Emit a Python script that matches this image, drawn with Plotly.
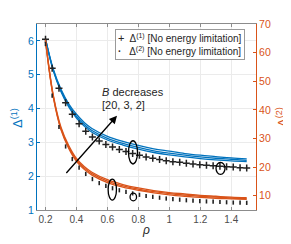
import plotly.graph_objects as go

# ---------------- data ----------------
rho_line = [0.2, 0.25, 0.3, 0.35, 0.4, 0.45, 0.5, 0.6, 0.7, 0.8, 0.9, 1.0, 1.1, 1.2, 1.3, 1.4, 1.5]

# Delta(1) curves (left axis), B = 20, 3, 2
d1_B20 = [6.05, 5.12, 4.50, 4.05, 3.72, 3.48, 3.30, 3.07, 2.92, 2.80, 2.70, 2.63, 2.57, 2.52, 2.48, 2.45, 2.43]
d1_B3 = [6.05, 5.14, 4.53, 4.09, 3.77, 3.53, 3.35, 3.12, 2.97, 2.85, 2.75, 2.68, 2.62, 2.57, 2.53, 2.50, 2.47]
d1_B2 = [6.06, 5.17, 4.57, 4.14, 3.83, 3.59, 3.41, 3.18, 3.03, 2.91, 2.81, 2.74, 2.67, 2.62, 2.58, 2.54, 2.51]

# Delta(2) curves (right axis), B = 20, 3, 2
d2_B20 = [64.0, 44.5, 33.0, 26.5, 22.0, 19.2, 17.2, 14.6, 13.0, 11.9, 11.0, 10.3, 9.8, 9.4, 9.1, 8.9, 8.7]
d2_B3 = [64.2, 44.8, 33.4, 27.0, 22.5, 19.7, 17.7, 15.1, 13.4, 12.3, 11.4, 10.7, 10.2, 9.8, 9.5, 9.2, 9.0]
d2_B2 = [64.5, 45.2, 33.9, 27.5, 23.0, 20.2, 18.2, 15.6, 13.9, 12.7, 11.8, 11.1, 10.6, 10.1, 9.8, 9.5, 9.3]

# No energy limitation (markers)
rho_mk = [0.200, 0.243, 0.287, 0.330, 0.373, 0.417, 0.460, 0.503, 0.547, 0.590,
          0.633, 0.677, 0.720, 0.763, 0.807, 0.850, 0.893, 0.937, 0.980, 1.023,
          1.067, 1.110, 1.153, 1.197, 1.240, 1.283, 1.327, 1.370, 1.413, 1.457, 1.500]
d1_nolim = [6.05, 5.19, 4.60, 4.17, 3.83, 3.55, 3.33, 3.16, 3.04, 2.94,
            2.86, 2.79, 2.73, 2.67, 2.62, 2.57, 2.53, 2.49, 2.46, 2.43,
            2.41, 2.38, 2.36, 2.34, 2.32, 2.31, 2.29, 2.28, 2.27, 2.25, 2.24]
d2_nolim = [63.0, 45.0, 34.0, 27.2, 22.8, 19.8, 17.6, 15.8, 14.4, 13.4,
            12.6, 11.9, 11.3, 10.8, 10.3, 9.9, 9.6, 9.3, 9.0, 8.8,
            8.6, 8.4, 8.25, 8.1, 8.0, 7.9, 7.8, 7.7, 7.6, 7.55, 7.5]

x_ticks = [0.2, 0.4, 0.6, 0.8, 1.0, 1.2, 1.4]
x_ticktext = ["0.2", "0.4", "0.6", "0.8", "1", "1.2", "1.4"]
y1_ticks = [1, 2, 3, 4, 5, 6]
y2_ticks = [10, 20, 30, 40, 50, 60, 70]

BLUE = "#0072BD"
ORANGE = "#D95319"
FONT = "Liberation Sans, Arial, sans-serif"

# page body has an 8px margin; compensate so plot sits where the reference has it
OFF = 8
W, H = 291 - OFF, 244 - OFF
L, T = 37 - OFF, 18 - OFF
PW, PH = 219, 192
R, B = W - L - PW, H - T - PH


def px(xp):
    # xp: pixel x in the reference picture
    return (xp - OFF - L) / PW


def py(yp):
    return 1 - (yp - OFF - T) / PH


fig = go.Figure()

for ys in (d1_B20, d1_B3, d1_B2):
    fig.add_trace(go.Scatter(x=rho_line, y=ys, mode="lines", line=dict(color=BLUE, width=1.3, shape="spline"),
                             showlegend=False, yaxis="y"))
for ys in (d2_B20, d2_B3, d2_B2):
    fig.add_trace(go.Scatter(x=rho_line, y=ys, mode="lines", line=dict(color=ORANGE, width=1.3, shape="spline"),
                             showlegend=False, yaxis="y2"))

fig.add_trace(go.Scatter(x=rho_mk, y=d1_nolim, mode="markers", yaxis="y",
                         name="Δ<sup>(1)</sup> [No energy limitation]",
                         marker=dict(symbol="cross-thin", size=5, color="black",
                                     line=dict(color="#222", width=1.5)),
                         showlegend=False))
fig.add_trace(go.Scatter(x=rho_mk, y=d2_nolim, mode="markers", yaxis="y2",
                         name="Δ<sup>(2)</sup> [No energy limitation]",
                         marker=dict(symbol="line-ns", size=3, color="black",
                                     line=dict(color="#222", width=1.6)),
                         showlegend=False))

shapes = []
# ellipses (pixel positions in reference)
for cx, cy, ew, eh in [(133.0, 150.5, 9, 24), (220.5, 167.0, 9, 12.5), (112.3, 189.0, 8.3, 21.7), (133.3, 196.5, 6.5, 8)]:
    shapes.append(dict(type="circle", xref="paper", yref="paper",
                       x0=px(cx - ew / 2), x1=px(cx + ew / 2), y0=py(cy + eh / 2), y1=py(cy - eh / 2),
                       line=dict(color="black", width=1.3)))

annotations = [
    # arrow
    dict(xref="paper", yref="paper", x=px(117), y=py(112.7), ax=65 - 117, ay=171.5 - 112.7,
         showarrow=True, arrowhead=2, arrowsize=1.2, arrowwidth=1.3,
         arrowcolor="black", text=""),
    dict(xref="paper", yref="paper", x=px(100), y=py(88), xanchor="left", yanchor="middle",
         text="<i>B</i> decreases", showarrow=False, font=dict(size=11, color="#262626", family=FONT)),
    dict(xref="paper", yref="paper", x=px(100), y=py(102), xanchor="left", yanchor="middle",
         text="[20, 3, 2]", showarrow=False, font=dict(size=11, color="#262626", family=FONT)),
    # axis titles
    dict(xref="paper", yref="paper", x=px(17), y=py(115), xanchor="center", yanchor="middle",
         text="Δ<sup>(1)</sup>", textangle=-90, showarrow=False, font=dict(size=13, color=BLUE, family=FONT)),
    dict(xref="paper", yref="paper", x=px(282), y=py(114), xanchor="center", yanchor="middle",
         text="Δ<sup>(2)</sup>", textangle=-90, showarrow=False, font=dict(size=13, color=ORANGE, family=FONT)),
    dict(xref="paper", yref="paper", x=px(146), y=py(231), xanchor="center", yanchor="middle",
         text="<i>ρ</i>", showarrow=False, font=dict(size=12, color="#262626", family=FONT)),
    # legend box
    dict(xref="paper", yref="paper", x=px(115), y=py(22.7), xanchor="left", yanchor="top",
         text="<span style='font-size:11px'>+</span>  Δ<sup>(1)</sup> [No energy limitation]<br>"
              "<b>·</b>   Δ<sup>(2)</sup> [No energy limitation]",
         align="left", showarrow=False, bgcolor="white", bordercolor="#9a9a9a", borderwidth=1,
         borderpad=2, font=dict(size=10, color="#262626", family=FONT)),
]

fig.update_layout(
    width=W, height=H,
    margin=dict(l=L, r=R, t=T, b=B),
    paper_bgcolor="white", plot_bgcolor="white",
    font=dict(family=FONT, size=10, color="#262626"),
    showlegend=False,
    xaxis=dict(range=[0.145, 1.56], tickvals=x_ticks, ticktext=x_ticktext,
               showgrid=True, gridcolor="#ebebeb", gridwidth=1,
               showline=True, linecolor="#8c8c8c", linewidth=1, mirror="ticks",
               ticks="inside", ticklen=3, tickcolor="#8c8c8c",
               tickfont=dict(size=10, color="#4d4d4d"), zeroline=False),
    yaxis=dict(range=[1, 6.5], tickvals=y1_ticks, showgrid=True, gridcolor="#ebebeb",
               showline=True, linecolor=BLUE, linewidth=1, ticks="inside", ticklen=3,
               tickcolor=BLUE, tickfont=dict(size=10.5, color=BLUE), zeroline=False),
    yaxis2=dict(range=[5, 70], tickvals=y2_ticks, overlaying="y", side="right",
                showgrid=False, showline=True, linecolor=ORANGE, linewidth=1,
                ticks="inside", ticklen=3, tickcolor=ORANGE,
                tickfont=dict(size=10.5, color=ORANGE), zeroline=False),
    shapes=shapes,
    annotations=annotations,
)

fig.write_html("out.html")
